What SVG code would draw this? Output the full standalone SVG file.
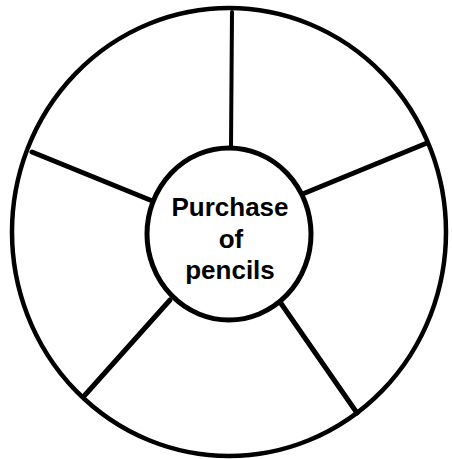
<svg xmlns="http://www.w3.org/2000/svg" width="452" height="459" viewBox="0 0 452 459">
<style>
.ln{fill:none;stroke:#000;stroke-linecap:round}
.t{font-family:"Liberation Sans",Arial,sans-serif;font-weight:bold;font-size:26px;text-anchor:middle;fill:#000}
</style>
<rect width="452" height="459" fill="#fff"/>
<g id="outer"><ellipse class="ln" cx="229" cy="232" rx="217" ry="224" stroke-width="4.5"/></g>
<g id="connectors">
<line class="ln" x1="232" y1="12" x2="231" y2="147" stroke-width="4"/>
<line class="ln" x1="427" y1="143" x2="305" y2="193" stroke-width="5"/>
<line class="ln" x1="280" y1="302" x2="357" y2="413" stroke-width="5"/>
<line class="ln" x1="170" y1="300" x2="85" y2="395" stroke-width="5"/>
<line class="ln" x1="32" y1="152" x2="150" y2="200" stroke-width="5"/>
</g>
<g id="center">
<ellipse class="ln" cx="229" cy="234" rx="82" ry="86" stroke-width="5" fill="#fff"/>
<text class="t" x="230" y="216">Purchase</text>
<text class="t" x="231" y="248">of</text>
<text class="t" x="230" y="279">pencils</text>
</g>
</svg>
